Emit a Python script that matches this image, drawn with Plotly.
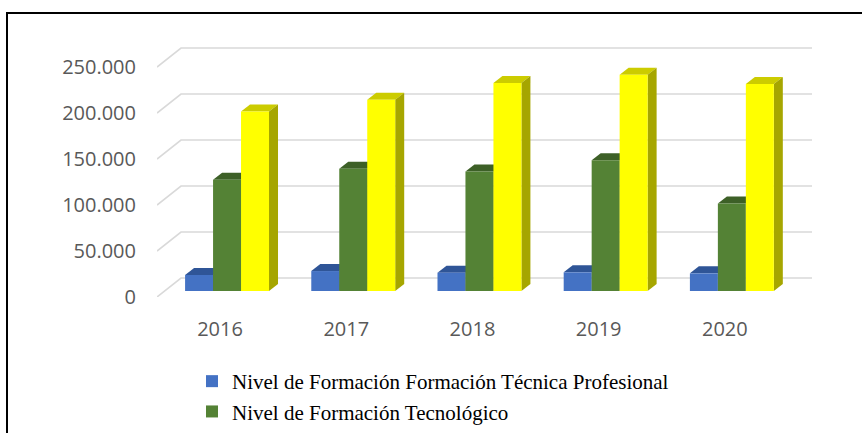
"""
    3D-style grouped column chart: enrolment by level of training, 2016-2020.
"""

import plotly.graph_objects as go

years = ["2016", "2017", "2018", "2019", "2020"]
tecnica_profesional = [17400, 21700, 19900, 20300, 19200]
tecnologico = [121000, 133000, 130000, 142000, 95000]
universitario = [195000, 208000, 226000, 235000, 225000]
y_ticks = [0, 50000, 100000, 150000, 200000, 250000]

# name, values, front colour, top colour, side colour, in legend
series = [
    ("Nivel de Formación Formación Técnica Profesional", tecnica_profesional,
     "#4472C4", "#2F5597", "#264478", True),
    ("Nivel de Formación Tecnológico", tecnologico,
     "#548235", "#3D6027", "#3A5A24", True),
    ("Nivel de Formación Universitario", universitario,
     "#FFFF00", "#CCCC00", "#A6A600", False),
]

W, H = 862, 433
MARGIN = dict(l=157, r=50, t=44, b=136, autoexpand=False)
Y_MAX = 275000
X_RANGE = [-0.555, 4.635]
BARGAP = 0.335

plot_w = W - MARGIN["l"] - MARGIN["r"]
plot_h = H - MARGIN["t"] - MARGIN["b"]
px_y = plot_h / Y_MAX                      # pixels per unit of value
px_x = plot_w / (X_RANGE[1] - X_RANGE[0])  # pixels per category
bar_w = (1 - BARGAP) / len(series)
bar_px = bar_w * px_x

BAR_LIFT = 6      # bars stand a little behind the front plane
DEPTH = (9, 7)    # depth of each column, px
FLOOR = (24, 19)  # depth of the floor / walls, px

fig = go.Figure()
shapes = []

# back wall gridlines with their receding part on the side wall
for v in y_ticks:
    shapes.append(dict(
        type="path", layer="below", xref="x", yref="y",
        xsizemode="pixel", xanchor=X_RANGE[0],
        ysizemode="pixel", yanchor=v,
        path=f"M0,0 L{FLOOR[0]},{FLOOR[1]} L{plot_w},{FLOOR[1]}",
        line=dict(color="#D9D9D9", width=1.6),
    ))

for i, (name, vals, front, top, side, in_legend) in enumerate(series):
    offset = -1.5 * bar_w + i * bar_w
    fig.add_trace(go.Bar(
        x=list(range(len(years))), y=vals, name=name, yaxis="y2",
        width=bar_w, offset=offset, showlegend=in_legend,
        marker=dict(color=front, line=dict(width=0)),
    ))
    for j, v in enumerate(vals):
        left = j + offset
        h = v * px_y
        # top face
        shapes.append(dict(
            type="path", layer="below", xref="x", yref="y2",
            xsizemode="pixel", xanchor=left,
            ysizemode="pixel", yanchor=v,
            path=(f"M0,0 L{DEPTH[0]},{DEPTH[1]} L{bar_px + DEPTH[0]},{DEPTH[1]} "
                  f"L{bar_px},0 Z"),
            fillcolor=top, line=dict(width=0),
        ))
        # side face
        shapes.append(dict(
            type="path", layer="below", xref="x", yref="y2",
            xsizemode="pixel", xanchor=left + bar_w,
            ysizemode="pixel", yanchor=0,
            path=(f"M0,0 L{DEPTH[0]},{DEPTH[1]} L{DEPTH[0]},{h + DEPTH[1]} "
                  f"L0,{h} Z"),
            fillcolor=side, line=dict(width=0),
        ))

# chart frame (runs off the right and bottom of the picture)
shapes.append(dict(
    type="rect", xref="paper", yref="paper", layer="above",
    xsizemode="pixel", xanchor=0, x0=7 - MARGIN["l"], x1=W,
    ysizemode="pixel", yanchor=1, y0=MARGIN["t"] - 13, y1=-H,
    line=dict(color="black", width=2), fillcolor="rgba(0,0,0,0)",
))

tick_font = dict(family="Open Sans", size=20, color="#595959")

fig.update_layout(
    width=W, height=H, margin=MARGIN,
    plot_bgcolor="white", paper_bgcolor="white",
    separators=",.", barmode="overlay",
    shapes=shapes,
    xaxis=dict(range=X_RANGE, tickvals=list(range(len(years))), ticktext=years,
               showgrid=False, zeroline=False, showline=False, ticks="",
               tickangle=0, ticklabelshift=-7, ticklabelstandoff=18,
               tickfont=tick_font),
    yaxis=dict(range=[0, Y_MAX], tickvals=y_ticks, tickformat=",.0f",
               showgrid=False, zeroline=False, showline=False, ticks="",
               ticklabelstandoff=20, tickfont=tick_font),
    yaxis2=dict(overlaying="y", visible=False,
                range=[-BAR_LIFT / px_y, Y_MAX - BAR_LIFT / px_y]),
    legend=dict(orientation="v", xref="container", yref="container",
                x=192 / W, y=1 - 361 / H, xanchor="left", yanchor="top",
                font=dict(family="Liberation Serif", size=21, color="black"),
                bgcolor="rgba(0,0,0,0)", tracegroupgap=0),
)

fig.write_html("out.html", config={"displayModeBar": False},
               post_script="document.body.style.margin = '0';")
